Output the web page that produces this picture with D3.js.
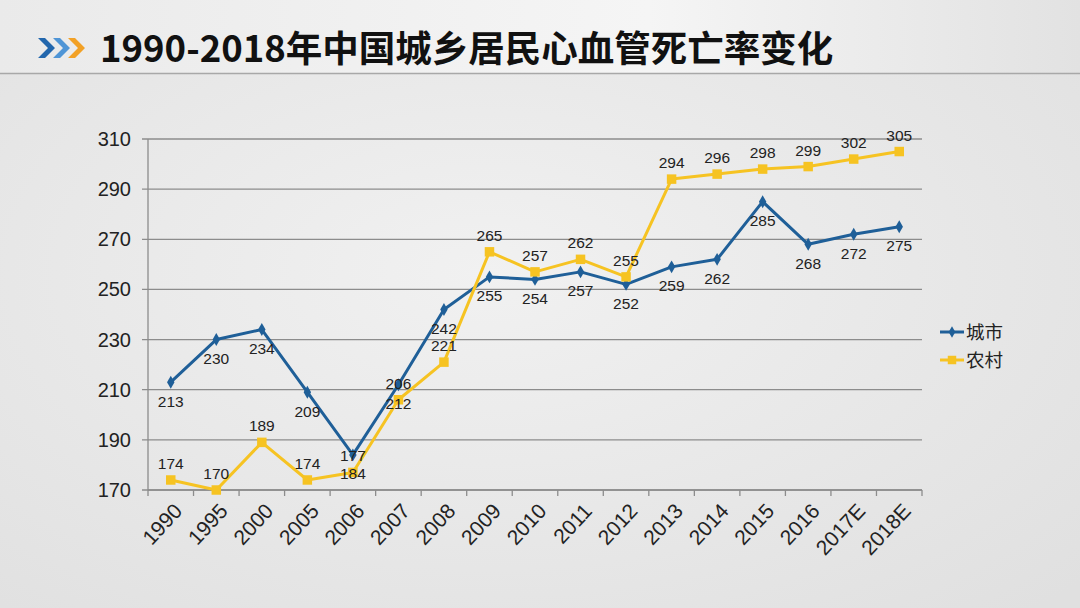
<!DOCTYPE html>
<html>
<head>
<meta charset="utf-8">
<script src="https://cdn.jsdelivr.net/npm/d3@7"></script>
<style>
  body { margin: 0; overflow: hidden; }
  svg { display: block; }
</style>
</head>
<body>
<svg id="chart"></svg>
<script>
const years = ["1990","1995","2000","2005","2006","2007","2008","2009","2010","2011","2012","2013","2014","2015","2016","2017E","2018E"];
const cityVals  = [213,230,234,209,184,212,242,255,254,257,252,259,262,285,268,272,275];
const ruralVals = [174,170,189,174,177,206,221,265,257,262,255,294,296,298,299,302,305];
const seriesNames = ["城市","农村"];
const yTicks = [170,190,210,230,250,270,290,310];
const titleText = "1990-2018年中国城乡居民心血管死亡率变化";

const W = 1080, H = 608;
const svg = d3.select("#chart").attr("width", W).attr("height", H);

// background gradients
const defs = svg.append("defs");
const bg = defs.append("radialGradient").attr("id","bg").attr("cx","45%").attr("cy","45%").attr("r","75%");
bg.append("stop").attr("offset","0%").attr("stop-color","#f1f1f1");
bg.append("stop").attr("offset","100%").attr("stop-color","#e0e0e0");
const hd = defs.append("linearGradient").attr("id","hd").attr("x1","0").attr("x2","1");
hd.append("stop").attr("offset","0%").attr("stop-color","#eaeaea");
hd.append("stop").attr("offset","60%").attr("stop-color","#f5f5f5");
hd.append("stop").attr("offset","100%").attr("stop-color","#e2e2e2");

svg.append("rect").attr("width", W).attr("height", H).attr("fill","url(#bg)");
svg.append("rect").attr("width", W).attr("height", 73).attr("fill","url(#hd)");
svg.append("line").attr("x1",0).attr("x2",W).attr("y1",73.5).attr("y2",73.5)
    .attr("stroke","#a8a8a8").attr("stroke-width",1.5);

// title chevrons
const chev = [["#2367ad",38],["#4f95d6",53],["#f2a126",68]];
chev.forEach(c => {
  const x0 = c[1];
  svg.append("path")
    .attr("d", `M${x0},38 L${x0+10},48 L${x0},58 L${x0+7},58 L${x0+17},48 L${x0+7},38 Z`)
    .attr("fill", c[0]);
});
svg.append("text")
    .attr("x", 100).attr("y", 62)
    .attr("font-family", "'Noto Sans CJK SC', 'Noto Sans', sans-serif")
    .attr("font-weight", "bold")
    .attr("font-size", 36.5)
    .attr("fill", "#111")
    .text(titleText);

// chart area
const pLeft = 148, pRight = 922, pTop = 139, pBottom = 490;
const x = d3.scaleBand().domain(years).range([pLeft, pRight]);
const y = d3.scaleLinear().domain([170, 310]).range([pBottom, pTop]);

// grid
svg.append("g").selectAll("line").data(yTicks).join("line")
    .attr("x1", pLeft - 6).attr("x2", pRight)
    .attr("y1", d => y(d)).attr("y2", d => y(d))
    .attr("stroke", "#8c8c8c").attr("stroke-width", 1.3);

// y axis
svg.append("line").attr("x1", pLeft).attr("x2", pLeft).attr("y1", pTop).attr("y2", pBottom)
    .attr("stroke", "#8c8c8c").attr("stroke-width", 1.3);
svg.append("g").selectAll("text").data(yTicks).join("text")
    .attr("x", 131).attr("y", d => y(d) + 7)
    .attr("text-anchor", "end")
    .attr("font-family", "'Liberation Sans', Arial, sans-serif")
    .attr("font-size", 20).attr("fill", "#222")
    .text(d => d);

// x axis
const xAxis = svg.append("g").attr("transform", `translate(0,${pBottom})`);
xAxis.append("line").attr("x1", pLeft).attr("x2", pRight).attr("stroke", "#8c8c8c").attr("stroke-width", 1.3);
xAxis.selectAll(".tk").data(years.concat(["end"])).join("line")
    .attr("x1", (d, i) => pLeft + i * x.bandwidth())
    .attr("x2", (d, i) => pLeft + i * x.bandwidth())
    .attr("y1", 0).attr("y2", 6)
    .attr("stroke", "#8c8c8c").attr("stroke-width", 1.3);
xAxis.selectAll("text").data(years).join("text")
    .attr("transform", d => `translate(${x(d) + x.bandwidth()/2 + 2},12) rotate(-47)`)
    .attr("text-anchor", "end")
    .attr("dy", "0.7em")
    .attr("font-family", "'Liberation Sans', Arial, sans-serif")
    .attr("font-size", 21).attr("fill", "#222")
    .text(d => d);

const cx = d => x(d) + x.bandwidth() / 2;
const line = d3.line().x(d => cx(d[0])).y(d => y(d[1]));

const series = [
  { name: seriesNames[0], vals: cityVals, color: "#1f5f98", shape: d3.symbolDiamond, size: 48, dy: 19 },
  { name: seriesNames[1], vals: ruralVals, color: "#f6c322", shape: d3.symbolSquare, size: 90, dy: -11 }
];

series.forEach(s => {
  const pts = years.map((yr, i) => [yr, s.vals[i]]);
  svg.append("path").datum(pts)
      .attr("d", line)
      .attr("fill", "none")
      .attr("stroke", s.color)
      .attr("stroke-width", 3)
      .attr("stroke-linejoin", "round");
  svg.append("g").selectAll("path").data(pts).join("path")
      .attr("transform", d => `translate(${cx(d[0])},${y(d[1])})`)
      .attr("d", d3.symbol(s.shape, s.size))
      .attr("fill", s.color);
});

// data labels
series.forEach(s => {
  svg.append("g").selectAll("text").data(years).join("text")
      .attr("x", d => cx(d))
      .attr("y", (d, i) => y(s.vals[i]) + s.dy)
      .attr("dy", s.dy > 0 ? "0.35em" : "0")
      .attr("text-anchor", "middle")
      .attr("font-family", "'Liberation Sans', Arial, sans-serif")
      .attr("font-size", 15.5).attr("fill", "#222")
      .text((d, i) => s.vals[i]);
});

// legend
const lg = svg.append("g").attr("transform", "translate(940,332)");
series.forEach((s, i) => {
  const g = lg.append("g").attr("transform", `translate(0,${i * 28})`);
  g.append("line").attr("x1", 0).attr("x2", 24).attr("stroke", s.color).attr("stroke-width", 3);
  g.append("path").attr("transform", "translate(12,0)")
      .attr("d", d3.symbol(s.shape, s.size * 0.8)).attr("fill", s.color);
  g.append("text").attr("x", 26).attr("y", 6.5)
      .attr("font-family", "'Noto Sans CJK SC', sans-serif")
      .attr("font-size", 18.5).attr("fill", "#222")
      .text(s.name);
});
</script>
</body>
</html>
